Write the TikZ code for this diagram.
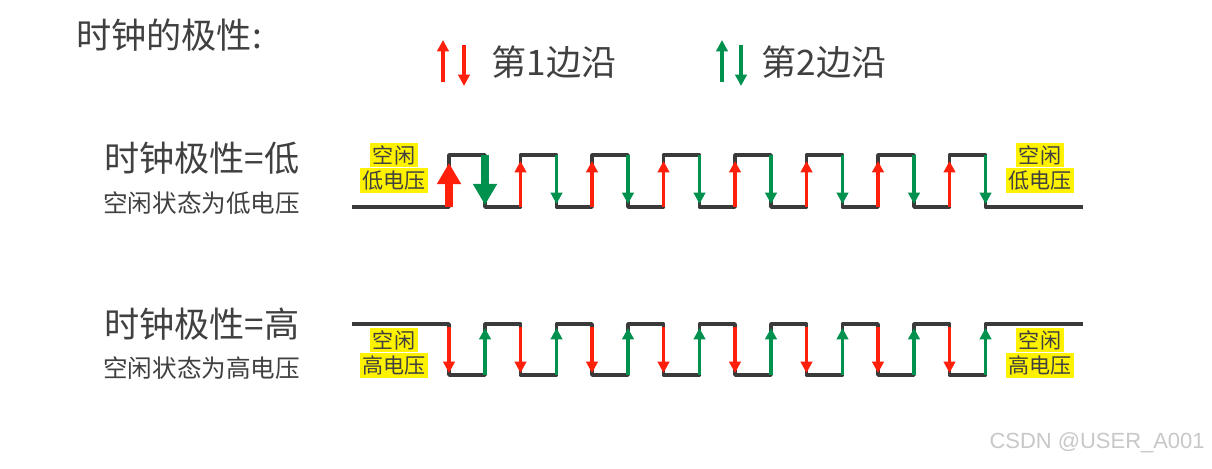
\documentclass[tikz,border=0pt]{standalone}
\usepackage{fontspec}
\newfontfamily\cjk{Noto Sans CJK SC}
\usepackage{tikz}
\usetikzlibrary{positioning,arrows.meta}
\usepackage{xcolor}
\definecolor{ink}{HTML}{404040}
\definecolor{wavec}{HTML}{3A3A3A}
\definecolor{edgeA}{HTML}{FF1F0A}
\definecolor{edgeB}{HTML}{00914F}
\definecolor{mark}{HTML}{FFF200}
\definecolor{wmark}{HTML}{C8C8C8}

\begin{document}
\begin{tikzpicture}[x=0.02cm, y=-0.02cm,
    txt/.style={font=\cjk, text=ink, inner sep=0pt, anchor=west},
    idle/.style={font=\cjk\fontsize{12}{12}\selectfont, text=ink, fill=mark, inner xsep=1.5pt, inner ysep=1.5pt},
    wave/.style={draw=wavec, line width=2pt, line join=round},
    edgethin/.style={line width=1.8pt, -{Triangle[width=6.5pt,length=6.5pt]}},
    edgebold/.style={line width=4pt, -{Triangle[width=13pt,length=12pt]}}]
        \useasboundingbox[fill=white] (0,0) rectangle (1212,469);
        % titles
        \node[txt, font=\cjk\fontsize{20}{20}\selectfont] (title) at (76,35) {时钟的极性:};
        \node[txt, font=\cjk\fontsize{20}{20}\selectfont] (polLo) at (104,158) {时钟极性=低};
        \node[txt, font=\cjk\fontsize{14}{14}\selectfont] (subLo) at (103,203) {空闲状态为低电压};
        \node[txt, font=\cjk\fontsize{20}{20}\selectfont] (polHi) at (104,324) {时钟极性=高};
        \node[txt, font=\cjk\fontsize{14}{14}\selectfont] (subHi) at (103,368) {空闲状态为高电压};
        % legend
        \draw[edgeA, edgethin] (443,82) -- (443,40);
        \draw[edgeA, edgethin] (464,45) -- (464,86);
        \node[txt, font=\cjk\fontsize{20}{20}\selectfont] (leg1) at (491,62) {第1边沿};
        \draw[edgeB, edgethin] (722,82) -- (722,40);
        \draw[edgeB, edgethin] (741,45) -- (741,86);
        \node[txt, font=\cjk\fontsize{20}{20}\selectfont] (leg2) at (761,62) {第2边沿};
        % idle labels
        \node[idle] (loA) at (394,155) {空闲};
        \node[idle, below=0pt of loA] (loB) {低电压};
        \node[idle] (loC) at (1040,155) {空闲};
        \node[idle, below=0pt of loC] (loD) {低电压};
        \node[idle] (hiA) at (394,340) {空闲};
        \node[idle, below=0pt of hiA] (hiB) {高电压};
        \node[idle] (hiC) at (1040,340) {空闲};
        \node[idle, below=0pt of hiC] (hiD) {高电压};
        % waveforms
        \draw[wave] (352,207) foreach \i in {0,...,7} { -- ({449+71.5*\i},207) -- ({449+71.5*\i},155) -- ({485+71.5*\i},155) -- ({485+71.5*\i},207) } -- (1083,207);
        \draw[wave] (352,324) foreach \i in {0,...,7} { -- ({449+71.5*\i},324) -- ({449+71.5*\i},375) -- ({485+71.5*\i},375) -- ({485+71.5*\i},324) } -- (1083,324);
        % edges
        \draw[edgeA, edgebold] (449,207) -- (449,163);
        \draw[edgeB, edgebold] (485,155) -- (485,205);
        \foreach \i in {1,...,7} {
          \draw[edgeA, edgethin] ({449+71.5*\i},207) -- ({449+71.5*\i},161);
          \draw[edgeB, edgethin] ({485+71.5*\i},155) -- ({485+71.5*\i},204);
        }
        \foreach \i in {0,...,7} {
          \draw[edgeA, edgethin] ({449+71.5*\i},327) -- ({449+71.5*\i},373);
          \draw[edgeB, edgethin] ({485+71.5*\i},375) -- ({485+71.5*\i},328);
        }
        \node[font=\fontspec{Liberation Sans}\fontsize{12.5}{12.5}\selectfont, text=wmark, anchor=east, inner sep=0pt] (wm) at (1205,443) {CSDN @USER\_A001};
      \end{tikzpicture}
\end{document}
